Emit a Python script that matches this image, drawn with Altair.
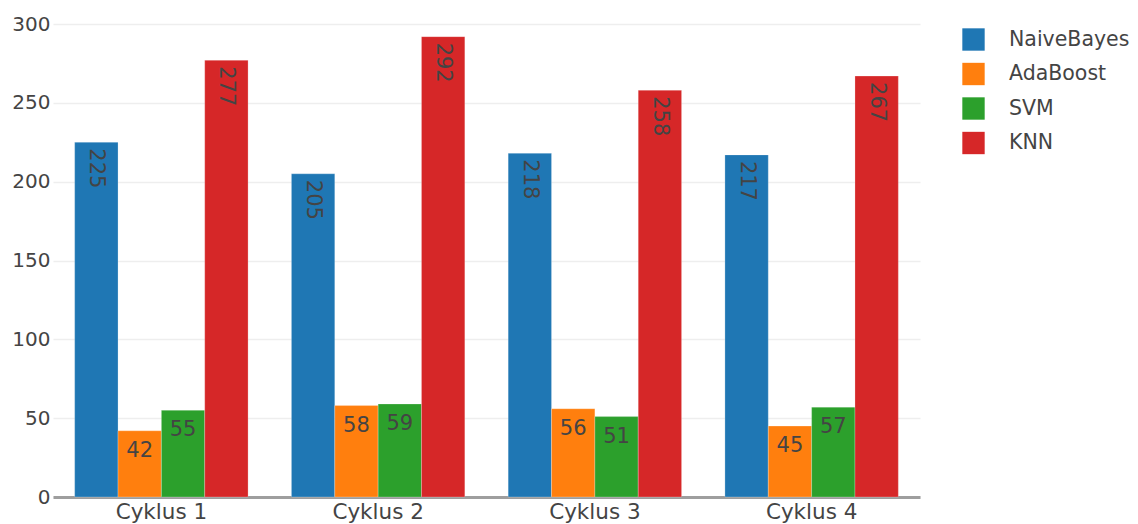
import altair as alt
import pandas as pd

cycles = ["Cyklus 1", "Cyklus 2", "Cyklus 3", "Cyklus 4"]
models = ["NaiveBayes", "AdaBoost", "SVM", "KNN"]
naive_bayes = [225, 205, 218, 217]
ada_boost = [42, 58, 56, 45]
svm = [55, 59, 51, 57]
knn = [277, 292, 258, 267]
colors = ["#1f77b4", "#ff7f0e", "#2ca02c", "#d62728"]
rotated_models = ["NaiveBayes", "KNN"]

series = {"NaiveBayes": naive_bayes, "AdaBoost": ada_boost, "SVM": svm, "KNN": knn}
rows = []
for m in models:
    for c, v in zip(cycles, series[m]):
        rows.append({"cycle": c, "model": m, "value": v, "rot": m in rotated_models})
df = pd.DataFrame(rows)

FONT = "DejaVu Sans"

x_enc = alt.X("cycle:N", sort=cycles, title=None,
              scale=alt.Scale(paddingInner=0.2, paddingOuter=0.1),
              axis=alt.Axis(labelAngle=0, labelFontSize=21.5, labelColor="#444",
                            labelFont=FONT, ticks=False, domainColor="#9e9e9e",
                            domainWidth=3, labelPadding=4, grid=False))
xoff = alt.XOffset("model:N", sort=models, scale=alt.Scale(domain=models, paddingInner=0, paddingOuter=0))
y_enc = alt.Y("value:Q", title=None,
              scale=alt.Scale(domain=[0, 307], nice=False),
              axis=alt.Axis(values=[0, 50, 100, 150, 200, 250, 300], labelFontSize=20,
                            labelColor="#444", labelFont=FONT, ticks=False, domain=False,
                            gridColor="#eeeeee", gridWidth=1.5, labelPadding=3))

bars = alt.Chart(df).mark_bar(stroke="#ffffff", strokeWidth=0.6, strokeOpacity=0.4).encode(
    x=x_enc,
    xOffset=xoff,
    y=y_enc,
    color=alt.Color("model:N", scale=alt.Scale(domain=models, range=colors),
                    sort=models,
                    legend=alt.Legend(title=None, orient="none", legendX=909, legendY=15,
                                      symbolType="square", symbolSize=500,
                                      symbolStrokeWidth=0, labelFontSize=20.5,
                                      labelFont=FONT, labelColor="#444",
                                      labelOffset=24, rowPadding=11.5, padding=0)),
)

rot_text = alt.Chart(df).transform_filter(alt.datum.rot == True).mark_text(
    angle=90, align="left", baseline="middle", dx=6, fontSize=21, font=FONT, color="#444"
).encode(x=alt.X("cycle:N", sort=cycles), xOffset=alt.XOffset("model:N", sort=models),
         y="value:Q", text="value:Q")

flat_text = alt.Chart(df).transform_filter(alt.datum.rot == False).mark_text(
    align="center", baseline="top", dy=9, fontSize=21, font=FONT, color="#444"
).encode(x=alt.X("cycle:N", sort=cycles), xOffset=alt.XOffset("model:N", sort=models),
         y="value:Q", text="value:Q")

chart = alt.layer(bars, rot_text, flat_text).properties(
    width=867, height=484,
    autosize=alt.AutoSizeParams(type="none"),
    padding={"left": 53, "top": 13, "right": 218, "bottom": 27},
).configure(background="white").configure_view(stroke="transparent", strokeWidth=0)

chart.save("out.html", embed_options={"renderer": "svg", "actions": False})
